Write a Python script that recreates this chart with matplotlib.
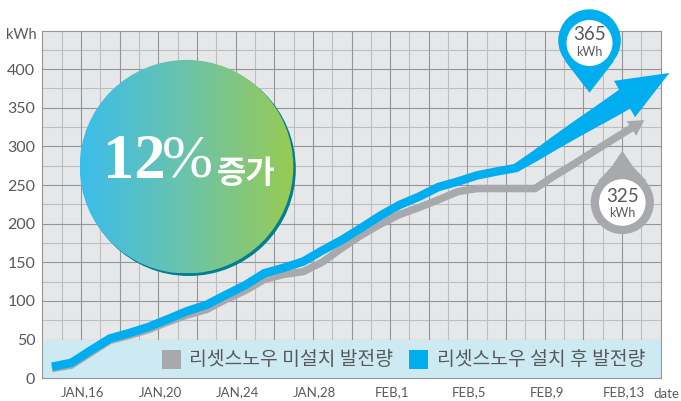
import matplotlib
matplotlib.use("Agg")
import matplotlib.pyplot as plt
import matplotlib.transforms as mtransforms
from matplotlib.patches import Circle, Polygon, Rectangle
import numpy as np

# kWh per day; sample n sits at day n + 0.5
with_kwh = [15, 20, 36, 51.5, 58.5, 66.5, 76.5, 87, 95, 108, 120.5, 136, 143,
            151, 165.5, 179, 194.5, 210.5, 224.5, 235, 247.5, 254.5, 262.5,
            267.5, 272, 287.5, 304, 320, 335.5, 351, 367]
without_kwh = [12.5, 17, 33, 49, 55.5, 63, 73, 82, 89, 102, 113.5, 128, 134.5,
               138, 150.5, 168.5, 185, 199.5, 212, 221, 231, 241.5, 245.5,
               245.5, 245.5, 245.5, 262, 277, 293, 308.5, 324]
with_tip = (32.45, 395)
without_tip = (31.15, 334)
TAPER_START = 24  # blue line widens into the arrow from this sample on

y_ticks = [0, 50, 100, 150, 200, 250, 300, 350, 400]
x_ticks = [2, 6, 10, 14, 18, 22, 26, 30]
x_labels = ["JAN,16", "JAN,20", "JAN,24", "JAN,28", "FEB,1", "FEB,5", "FEB,9", "FEB,13"]
legend_labels = ["리셋스노우 미설치 발전량", "리셋스노우 설치 후 발전량"]

W, H = 681, 401
BLUE = "#00aeef"
GREY = "#a7a9ac"
TEXT = "#58595b"
LABEL_FONT = "Lato"
KR_FONT = "Noto Sans CJK KR"
PX = 0.72  # points per pixel at dpi 100

plt.rcParams["font.family"] = [LABEL_FONT, "DejaVu Sans"]

fig = plt.figure(figsize=(W / 100, H / 100), dpi=100, facecolor="white")
left, right, top, bottom = 42.3, 660.7, 31.3, 378.3
ax = fig.add_axes([left / W, 1 - bottom / H, (right - left) / W, (bottom - top) / H])
ax.set_xlim(0, 32)
ax.set_ylim(0, (bottom - top) / 0.773)
ax.set_facecolor("#e6e7e9")

# grid, light lines first so the dark ones stay on top
for d in range(1, 32, 2):
    ax.axvline(d, color="#bcbec0", lw=1.1 * PX, zorder=1)
for v in range(25, 449, 50):
    ax.axhline(v, color="#bcbec0", lw=1.1 * PX, zorder=1)
for d in range(2, 32, 2):
    ax.axvline(d, color="#939598", lw=1.1 * PX, zorder=1.1)
for v in range(50, 449, 50):
    ax.axhline(v, color="#939598", lw=1.1 * PX, zorder=1.1)
ax.axhspan(0, 50, color="#cdeaf2", lw=0, zorder=1.5)

days = np.arange(len(with_kwh)) + 0.5
ax.plot(days, without_kwh, color=GREY, lw=7.5 * PX, solid_capstyle="butt",
        solid_joinstyle="miter", zorder=3)
# one sample past the taper start, so the join under the shaft has no notch
ax.plot(days[:TAPER_START + 2], with_kwh[:TAPER_START + 2], color=BLUE, lw=8.5 * PX,
        solid_capstyle="butt", solid_joinstyle="miter", zorder=4)

ax.set_yticks(y_ticks)
ax.set_xticks(x_ticks)
ax.set_xticklabels(x_labels)
ax.tick_params(axis="both", length=0, labelcolor=TEXT)
ax.tick_params(axis="y", labelsize=11.5, pad=5)
ax.tick_params(axis="x", labelsize=9.5, pad=6)
shift = mtransforms.ScaledTranslation(2 / 100, 0, fig.dpi_scale_trans)
for label in ax.get_xticklabels():
    label.set_transform(label.get_transform() + shift)
for spine in ax.spines.values():
    spine.set_color("#939598")
    spine.set_linewidth(1.1 * PX)

# overlay in image pixels for the arrows, pins, badge and legend
ov = fig.add_axes([0, 0, 1, 1], facecolor="none")
ov.set_xlim(0, W)
ov.set_ylim(H, 0)
ov.axis("off")


def to_px(day, kwh):
    return np.array([left + day * (right - left) / 32, bottom - kwh * 0.773])


def normal(a, b):
    d = (b - a) / np.hypot(*(b - a))
    return np.array([d[1], -d[0]])


# blue shaft widening toward the head
pts = np.array([to_px(d, v) for d, v in zip(days[TAPER_START:], with_kwh[TAPER_START:])])
half = np.linspace(4.25, 11.4, len(pts))
n = normal(pts[0], pts[-1])
ov.add_patch(Polygon(np.vstack([pts + np.outer(half, n), (pts - np.outer(half, n))[::-1]]),
                     color=BLUE, lw=0, zorder=4))


def arrow_head(base, tip, half_width, color):
    n = normal(base, tip)
    ov.add_patch(Polygon([base + n * half_width, tip, base - n * half_width],
                         color=color, lw=0, zorder=4))


tip_px = to_px(*with_tip)
arrow_head(np.array([624.5, 99.0]), tip_px, 21, BLUE)
tip_px = to_px(*without_tip)
arrow_head(np.array([631.5, 128.5]), tip_px, 8.7, GREY)

# gradient badge
ov.add_patch(Circle((188.8, 169), 107, color="#007f93", lw=0, zorder=5))
grad = np.linspace(0, 1, 256).reshape(1, -1)
cmap = matplotlib.colors.LinearSegmentedColormap.from_list(
    "badge", ["#3bbdec", "#6cc3a9", "#98cb52"])
cx, cy, r = 186.5, 166.7, 106.8
im = ov.imshow(grad, cmap=cmap, extent=(cx - r, cx + r, cy + r, cy - r), aspect="auto", zorder=6)
im.set_clip_path(Circle((cx, cy), r, transform=ov.transData))
ov.set_xlim(0, W)
ov.set_ylim(H, 0)
ov.text(134, 163, "12", color="white", ha="center", va="center", fontsize=45,
        family="Liberation Serif", weight="bold", zorder=7)
ov.text(187.5, 162, "%", color="white", ha="center", va="center", fontsize=44,
        family="Liberation Serif", zorder=7)
ov.text(246, 173.5, "증가", color="white", ha="center", va="center", fontsize=23,
        family=KR_FONT, weight="bold", zorder=7)

# blue pin
ov.add_patch(Circle((589.5, 40.6), 31.3, color=BLUE, lw=0, zorder=8))
ov.add_patch(Polygon([(589.5, 92.7), (565, 61), (614, 61)], color=BLUE, lw=0, zorder=8))
ov.add_patch(Circle((589.5, 43), 23, color="white", lw=0, zorder=9))
ov.text(589.5, 35, "365", ha="center", va="center", fontsize=13.5, color=TEXT, zorder=10)
ov.text(589.5, 52, "kWh", ha="center", va="center", fontsize=9, color=TEXT, zorder=10)

# grey pin
ov.add_patch(Circle((622.3, 202.5), 31.6, color=GREY, lw=0, zorder=8))
ov.add_patch(Polygon([(622.3, 150.7), (611.5, 166.7), (598, 181), (646.6, 181), (633.1, 166.7)],
                     color=GREY, lw=0, zorder=8))
ov.add_patch(Circle((622.3, 202.5), 23.3, color="white", lw=0, zorder=9))
ov.text(622.3, 197, "325", ha="center", va="center", fontsize=13.5, color=TEXT, zorder=10)
ov.text(622.3, 213, "kWh", ha="center", va="center", fontsize=9, color=TEXT, zorder=10)

# legend strip
ov.add_patch(Rectangle((162, 350), 19, 19, color=GREY, lw=0, zorder=6))
ov.add_patch(Rectangle((409, 350), 19, 19, color=BLUE, lw=0, zorder=6))
ov.text(189, 359.5, legend_labels[0], ha="left", va="center", fontsize=13.9,
        color=TEXT, family=KR_FONT, zorder=7)
ov.text(436.7, 359.5, legend_labels[1], ha="left", va="center", fontsize=13.9,
        color=TEXT, family=KR_FONT, zorder=7)

ov.text(37, 35, "kWh", ha="right", va="center", fontsize=10.5, color=TEXT)
ov.text(679, 393.5, "date", ha="right", va="center", fontsize=9.5, color=TEXT)

fig.savefig("out.png", dpi=100, facecolor="white")
